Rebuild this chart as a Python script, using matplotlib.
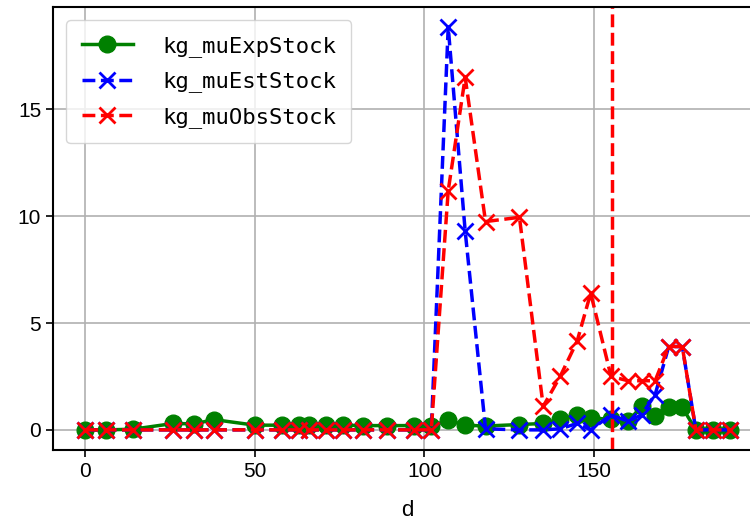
import matplotlib
matplotlib.use("Agg")
import matplotlib.pyplot as plt

# 数据
days = [0, 6, 14, 26, 32, 38, 50, 58, 63, 66, 71, 76, 82, 89, 97, 102,
        107, 112, 118, 128, 135, 140, 145, 149, 155, 160, 164, 168, 172, 176,
        180, 185, 190]
mu_exp = [0.0, 0.0, 0.03, 0.3, 0.28, 0.48, 0.22, 0.22, 0.25, 0.25, 0.22, 0.22,
          0.2, 0.2, 0.2, 0.18, 0.45, 0.22, 0.18, 0.25, 0.3, 0.5, 0.7, 0.55,
          0.5, 0.4, 1.1, 0.65, 1.05, 1.05, 0.0, 0.0, 0.0]
mu_est = [0.0, 0.0, 0.0, 0.0, 0.0, 0.0, 0.0, 0.0, 0.0, 0.0, 0.0, 0.0,
          0.0, 0.0, 0.0, 0.0, 18.85, 9.3, 0.05, 0.0, 0.0, 0.05, 0.3, 0.0,
          0.7, 0.4, 0.7, 1.65, 3.9, 3.9, 0.0, 0.0, 0.0]
mu_obs = [0.0, 0.0, 0.0, 0.0, 0.0, 0.0, 0.0, 0.0, 0.0, 0.0, 0.0, 0.0,
          0.0, 0.0, 0.0, 0.0, 11.2, 16.5, 9.75, 9.95, 1.1, 2.5, 4.15, 6.4,
          2.5, 2.3, 2.3, 2.3, 3.9, 3.9, 0.0, 0.0, 0.0]
labels = ["kg_muExpStock", "kg_muEstStock", "kg_muObsStock"]
cutoff_day = 155.3

plt.rcParams['font.family'] = ['Liberation Sans', 'DejaVu Sans']

fig = plt.figure(figsize=(7.5, 5.2), dpi=100)
ax = fig.add_axes([0.0707, 0.1346, 0.9453, 0.8519])

ax.plot(days, mu_exp, color='green', linestyle='-', marker='o',
        markersize=12, linewidth=2.5, label=labels[0])
ax.plot(days, mu_est, color='blue', linestyle='--', marker='x',
        markersize=11, markeredgewidth=2, linewidth=2.5, label=labels[1])
ax.plot(days, mu_obs, color='red', linestyle='--', marker='x',
        markersize=11, markeredgewidth=2, linewidth=2.5, label=labels[2])
ax.axvline(cutoff_day, color='red', linestyle='--', linewidth=2.5)

ax.grid(True, color='#b0b0b0', linewidth=1.2)
ax.set_axisbelow(True)
ax.set_xticks([0, 50, 100, 150])
ax.set_yticks([0, 5, 10, 15])
ax.tick_params(labelsize=15, width=1.2, length=5)
for s in ax.spines.values():
    s.set_linewidth(1.5)
ax.set_xlabel('d', fontsize=16, labelpad=14)

ax.legend(loc='upper left', prop={'family': 'DejaVu Sans Mono', 'size': 16},
          handlelength=2.3, handletextpad=1.3, labelspacing=0.65,
          borderpad=0.7, borderaxespad=0.6)

fig.savefig('out.png', dpi=100)
